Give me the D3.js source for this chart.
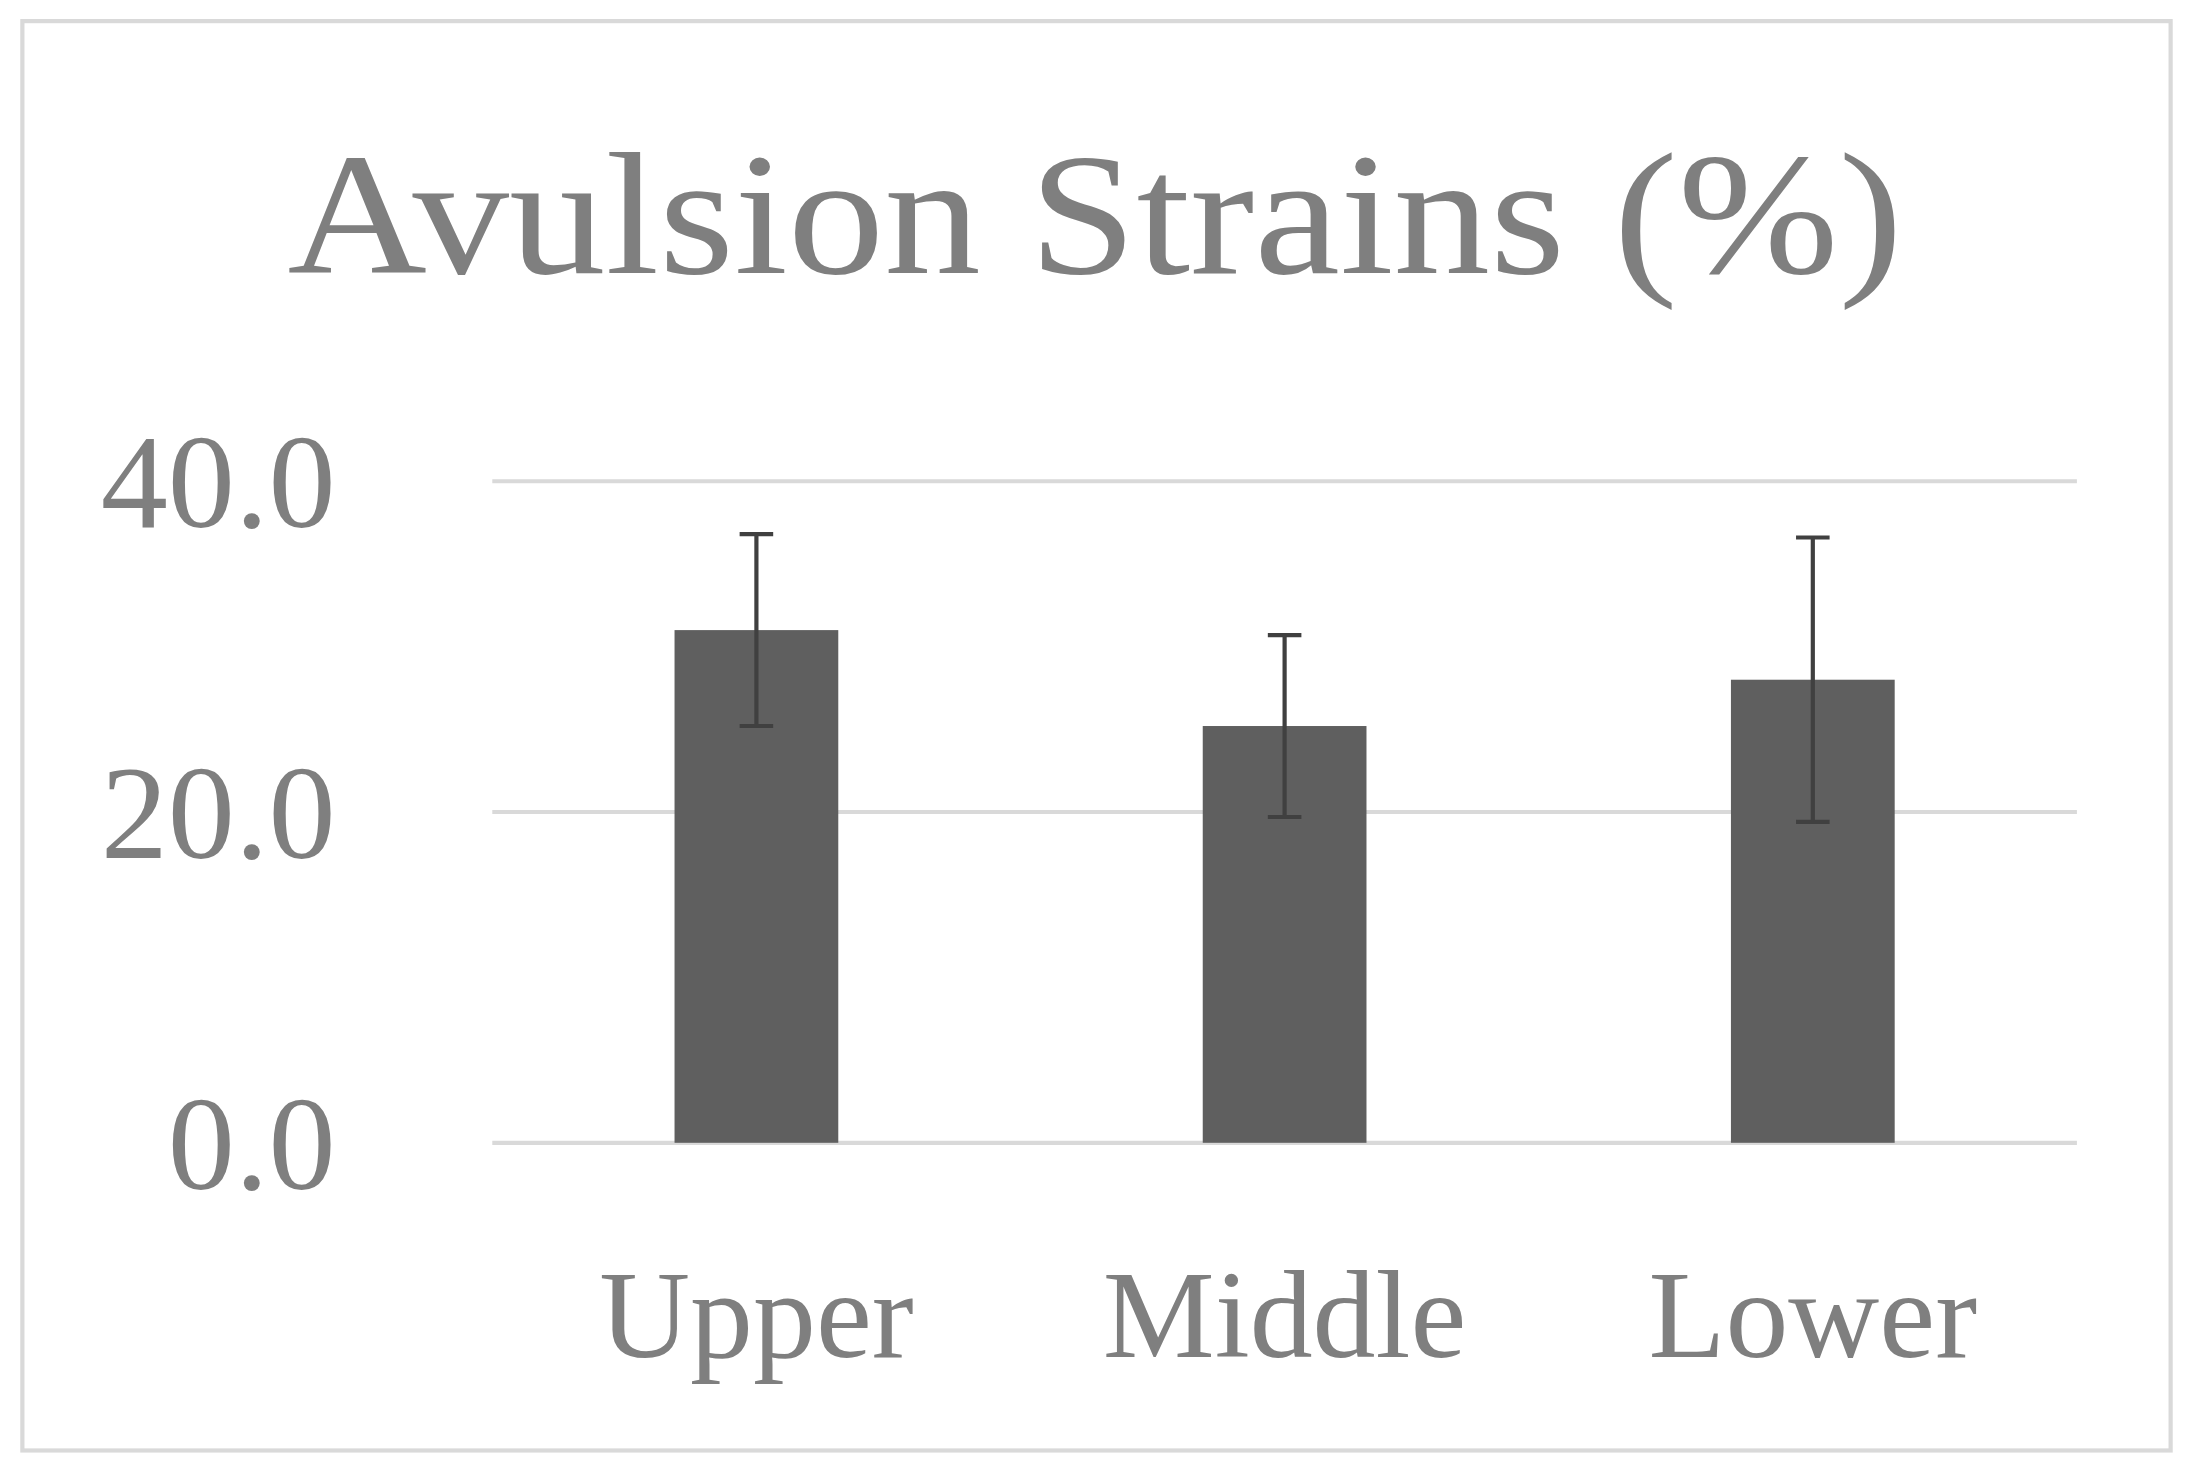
<!DOCTYPE html>
<html><head><meta charset="utf-8">
<script src="https://cdn.jsdelivr.net/npm/d3@7"></script>
<style>body{margin:0;background:#fff}</style></head>
<body><svg id="c"></svg>
<script>
const categories = ["Upper", "Middle", "Lower"];
const values = [31.0, 25.2, 28.0];
const errors = [5.8, 5.5, 8.6];
const tickValues = [0, 20, 40];
const title = "Avulsion Strains (%)";

const W = 1568, H = 1053;
const svg = d3.select("#c").attr("width", 2193).attr("height", 1473).attr("viewBox", `0 0 ${W} ${H}`);
svg.append("rect").attr("x",0).attr("y",0).attr("width",W).attr("height",H).attr("fill","#fff");
svg.append("rect").attr("x",16).attr("y",15).attr("width",1536).attr("height",1022)
  .attr("fill","none").attr("stroke","#d9d9d9").attr("stroke-width",3);
const font = "'Liberation Serif','DejaVu Serif',serif";
const x = d3.scaleBand().domain(categories).range([352,1485]).paddingInner(0.69).paddingOuter(0.345);
const y = d3.scaleLinear().domain([0,40]).range([817,344]);

svg.append("g").selectAll("line").data(tickValues).join("line")
  .attr("x1",352).attr("x2",1485).attr("y1",d=>y(d)).attr("y2",d=>y(d))
  .attr("stroke","#d9d9d9").attr("stroke-width",3);
svg.append("g").selectAll("text").data(tickValues).join("text")
  .attr("x",240).attr("y",d=>y(d)+33).attr("text-anchor","end")
  .attr("font-family",font).attr("font-size",96).attr("fill","#7f7f7f")
  .text(d=>d.toFixed(1));
svg.append("g").selectAll("rect").data(categories).join("rect")
  .attr("x",d=>x(d)).attr("width",x.bandwidth())
  .attr("y",(d,i)=>y(values[i])).attr("height",(d,i)=>y(0)-y(values[i]))
  .attr("fill","#5f5f5f");
const eg = svg.append("g").attr("stroke","#404040").attr("stroke-width",3);
categories.forEach((c,i)=>{
  const cx = x(c)+x.bandwidth()/2, t=y(values[i]+errors[i]), b=y(values[i]-errors[i]);
  eg.append("line").attr("x1",cx).attr("x2",cx).attr("y1",t).attr("y2",b);
  eg.append("line").attr("x1",cx-12).attr("x2",cx+12).attr("y1",t).attr("y2",t);
  eg.append("line").attr("x1",cx-12).attr("x2",cx+12).attr("y1",b).attr("y2",b);
});
svg.append("g").selectAll("text").data(categories).join("text")
  .attr("x",d=>x(d)+x.bandwidth()/2).attr("y",970).attr("text-anchor","middle")
  .attr("font-family",font).attr("font-size",90).attr("fill","#7f7f7f").text(d=>d);
svg.append("text").attr("x",783).attr("y",195).attr("text-anchor","middle")
  .attr("font-family",font).attr("font-size",124).attr("fill","#7f7f7f")
  .attr("textLength",1155).attr("lengthAdjust","spacingAndGlyphs").text(title);
</script></body></html>
